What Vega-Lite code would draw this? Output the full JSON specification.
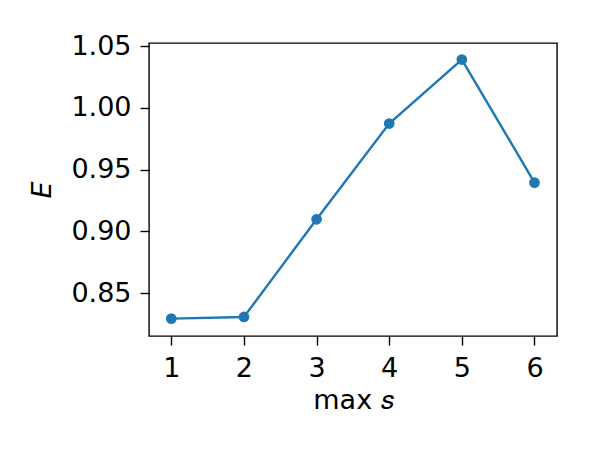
{
  "$schema": "https://vega.github.io/schema/vega-lite/v6.json",
  "autosize": {"type": "none"},
  "padding": {"left": 149, "top": 43, "right": 43, "bottom": 114},
  "width": 408,
  "height": 293,
  "background": "white",
  "config": {
    "view": {"stroke": "black", "strokeWidth": 1.4},
    "axis": {
      "grid": false,
      "domain": false,
      "tickColor": "black",
      "tickSize": 9,
      "tickWidth": 1.4,
      "labelFont": "DejaVu Sans",
      "labelFontSize": 27,
      "labelColor": "black",
      "titleFont": "DejaVu Sans",
      "titleFontSize": 27,
      "titleFontWeight": "normal",
      "titleColor": "black"
    }
  },
  "data": {
    "values": [
      {"max_s": 1, "E": 0.8295},
      {"max_s": 2, "E": 0.8308},
      {"max_s": 3, "E": 0.9099},
      {"max_s": 4, "E": 0.9874},
      {"max_s": 5, "E": 1.0392},
      {"max_s": 6, "E": 0.9396}
    ]
  },
  "mark": {"type": "line", "color": "#1f77b4", "strokeWidth": 2.4, "point": {"filled": true, "size": 115, "color": "#1f77b4", "opacity": 1}},
  "encoding": {
    "x": {
      "field": "max_s",
      "type": "quantitative",
      "scale": {"domain": [0.693, 6.31], "nice": false, "zero": false},
      "axis": {"values": [1, 2, 3, 4, 5, 6], "format": "d", "labelPadding": 10, "title": "max 𝑠", "titlePadding": 6, "labelFlush": false}
    },
    "y": {
      "field": "E",
      "type": "quantitative",
      "scale": {"domain": [0.8154, 1.0526], "nice": false, "zero": false},
      "axis": {"values": [0.85, 0.9, 0.95, 1.0, 1.05], "format": ".2f", "labelPadding": 9, "title": "E", "titleFontStyle": "italic", "titlePadding": 14, "labelFlush": false}
    }
  }
}
